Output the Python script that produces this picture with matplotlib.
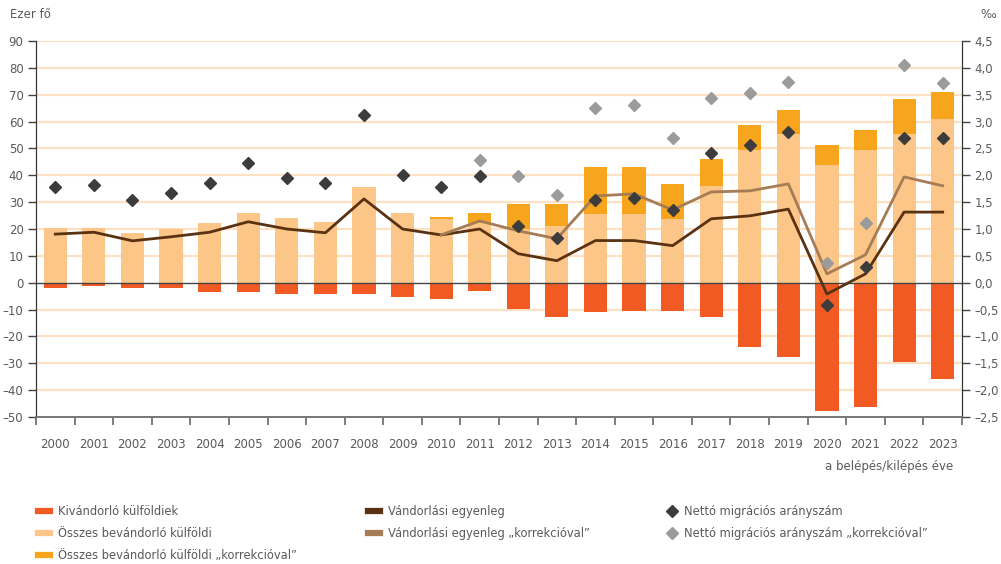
import matplotlib
matplotlib.use('Agg')
import matplotlib.pyplot as plt
from matplotlib.lines import Line2D
import numpy as np

# Data
years = [str(y) for y in range(2000, 2024)]
# Összes bevándorló külföldi (ezer fő)
immigrants = [20.3, 20.3, 18.6, 19.9, 22.3, 26.0, 24.2, 22.7, 35.7, 26.0, 23.8, 22.4,
              20.1, 21.2, 25.7, 25.7, 23.8, 36.1, 49.4, 55.4, 43.9, 49.4, 55.4, 61.0]
# Összes bevándorló külföldi "korrekcióval" (total height)
immigrants_corr = [None] * 10 + [24.5, 26.0, 29.4, 29.4, 43.1, 43.1, 36.8, 46.1,
                                 58.7, 64.3, 51.3, 56.9, 68.4, 71.0]
# Kivándorló külföldiek
emigrants = [-2.1, -1.4, -2.1, -2.1, -3.3, -3.3, -4.1, -4.1, -4.1, -5.2, -5.9, -3.0,
             -9.7, -12.6, -10.8, -10.4, -10.4, -12.6, -23.8, -27.5, -47.6, -46.1, -29.4, -35.7]
# Vándorlási egyenleg
balance = [18.1, 18.8, 15.6, 17.1, 18.8, 22.7, 20.0, 18.6, 31.2, 20.0, 17.8, 20.0,
           10.8, 8.2, 15.7, 15.7, 13.8, 23.8, 24.9, 27.4, -4.2, 3.3, 26.3, 26.3]
# Vándorlási egyenleg "korrekcióval"
balance_corr = [None] * 10 + [17.8, 23.0, 19.3, 16.4, 32.3, 33.1, 27.1, 33.8,
                              34.2, 36.8, 3.3, 10.4, 39.4, 36.1]
# Nettó migrációs arányszám (‰)
net_rate = [1.78, 1.82, 1.54, 1.67, 1.85, 2.22, 1.95, 1.85, 3.12, 2.01, 1.79, 1.98,
            1.05, 0.83, 1.54, 1.57, 1.36, 2.41, 2.56, 2.81, -0.41, 0.30, 2.69, 2.69]
# Nettó migrációs arányszám "korrekcióval"
net_rate_corr = [None] * 11 + [2.29, 1.98, 1.64, 3.25, 3.31, 2.69, 3.43, 3.53,
                               3.74, 0.37, 1.11, 4.05, 3.71]

c_emig = '#f15a22'
c_imm = '#fbc687'
c_corr = '#f7a51c'
c_bal = '#5a3212'
c_balc = '#a67c56'
c_dot = '#3c3c3c'
c_dotc = '#9b9b9b'
c_grid = '#fde1c2'
c_text = '#5a5a5a'

plt.rcParams['font.family'] = 'DejaVu Sans'

fig = plt.figure(figsize=(10.01, 5.64), dpi=100)
ax = fig.add_axes([0.036, 0.2606, 0.925, 0.6667])
ax2 = ax.twinx()

x = np.arange(len(years))
w = 0.6

# grid
for g in range(-40, 100, 10):
    if g != 0:
        ax.axhline(g, color=c_grid, lw=1.6, zorder=0)

# bars
corr_x = [i for i, v in enumerate(immigrants_corr) if v is not None]
corr_h = [immigrants_corr[i] - immigrants[i] for i in corr_x]
corr_b = [immigrants[i] for i in corr_x]
ax.bar(corr_x, corr_h, w, bottom=corr_b, color=c_corr, zorder=2)
ax.bar(x, immigrants, w, color=c_imm, zorder=2)
ax.bar(x, emigrants, w, color=c_emig, zorder=2)
ax.axhline(0, color='#444444', lw=1.0, zorder=3)

# lines
ax.plot(x, balance, color=c_bal, lw=2.0, zorder=4)
bc_x = [i for i, v in enumerate(balance_corr) if v is not None]
ax.plot(bc_x, [balance_corr[i] for i in bc_x], color=c_balc, lw=2.0, zorder=4)

# diamonds on right axis
ax2.plot(x, net_rate, 'D', color=c_dot, ms=6.5, zorder=5, ls='none')
nc_x = [i for i, v in enumerate(net_rate_corr) if v is not None]
ax2.plot(nc_x, [net_rate_corr[i] for i in nc_x], 'D', color=c_dotc, ms=6.5, zorder=5, ls='none')

ax.set_xlim(-0.5, len(years) - 0.5)
ax.set_ylim(-50, 90)
ax2.set_ylim(-2.5, 4.5)

ax.set_yticks(range(-50, 100, 10))
ax.set_yticklabels([str(v).replace('-', '\u2013') for v in range(-50, 100, 10)])
r_ticks = np.arange(-2.5, 4.6, 0.5)
ax2.set_yticks(r_ticks)
ax2.set_yticklabels([f'{v:.1f}'.replace('.', ',').replace('-', '\u2013') for v in r_ticks])

ax.set_xticks(x)
ax.set_xticklabels(years)
ax.set_xticks(np.arange(-0.5, len(years), 1), minor=True)
ax.tick_params(axis='x', which='major', length=0, pad=15, labelsize=8.5, labelcolor=c_text)
ax.tick_params(axis='x', which='minor', length=6, width=1.2, color='#666666', direction='out')
ax.tick_params(axis='y', length=6, width=1, color='#444444', pad=3, labelsize=8.5, labelcolor=c_text)
ax2.tick_params(axis='y', length=6, width=1, color='#444444', pad=3, labelsize=8.5, labelcolor=c_text)

for a in (ax, ax2):
    a.spines['top'].set_visible(False)
    a.spines['left'].set_color('#333333')
    a.spines['right'].set_color('#333333')
    a.spines['bottom'].set_color('#777777')
    a.spines['bottom'].set_linewidth(1.2)
ax.patch.set_visible(False)

fig.text(0.010, 0.975, 'Ezer fő', fontsize=8.5, color=c_text, va='center', ha='left')
fig.text(0.987, 0.975, '‰', fontsize=8.5, color=c_text, va='center', ha='center')
fig.text(0.952, 0.172, 'a belépés/kilépés éve', fontsize=8.5, color=c_text, va='center', ha='right')

# legend in three columns
sq = dict(ls='-', lw=4.5)
col1 = [Line2D([], [], color=c_emig, **sq), Line2D([], [], color=c_imm, **sq),
        Line2D([], [], color=c_corr, **sq)]
lab1 = ['Kivándorló külföldiek', 'Összes bevándorló külföldi',
        'Összes bevándorló külföldi „korrekcióval”']
col2 = [Line2D([], [], color=c_bal, **sq), Line2D([], [], color=c_balc, **sq)]
lab2 = ['Vándorlási egyenleg', 'Vándorlási egyenleg „korrekcióval”']
col3 = [Line2D([], [], color=c_dot, marker='D', ls='none', ms=6),
        Line2D([], [], color=c_dotc, marker='D', ls='none', ms=6)]
lab3 = ['Nettó migrációs arányszám', 'Nettó migrációs arányszám „korrekcióval”']
for h, l, xa, hl in ((col1, lab1, 0.038, 1.0), (col2, lab2, 0.368, 1.0), (col3, lab3, 0.668, 0.6)):
    leg = fig.legend(h, l, loc='upper left', bbox_to_anchor=(xa, 0.105), frameon=False,
                     fontsize=8.3, handlelength=hl, handletextpad=0.7, labelspacing=0.8,
                     borderaxespad=0, borderpad=0)
    for t in leg.get_texts():
        t.set_color(c_text)

fig.savefig('out.png', dpi=100)
